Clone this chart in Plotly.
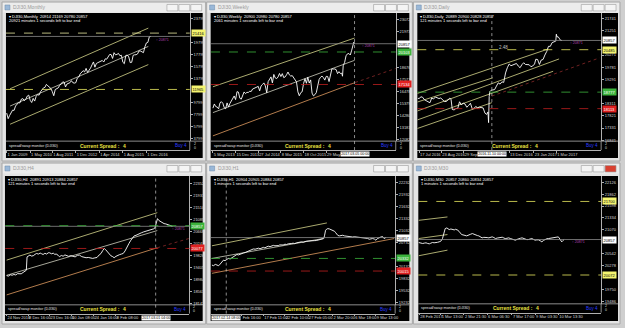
import plotly.graph_objects as go

W, H = 625, 328
def fx(x): return x / W
def fy(y): return 1 - y / H

# ================= DATA =================
# Panel 1 : DJI30 Monthly  (x = months since Jan 2009)
mo_close = [8001, 7063, 7609, 8168, 8500, 8447, 9172, 9496, 9712, 9713, 10345, 10428,
            10067, 10325, 10857, 11009, 10137, 9774, 10466, 10015, 10788, 11118, 11006, 11578,
            11892, 12226, 12320, 12811, 12570, 12414, 12143, 11614, 10913, 11955, 12046, 12218,
            12633, 12952, 13212, 13214, 12393, 12880, 13009, 13091, 13437, 13096, 13026, 13104,
            13861, 14054, 14579, 14840, 15116, 14910, 15500, 14810, 15130, 15546, 16086, 16577,
            15699, 16322, 16458, 16581, 16717, 16827, 16563, 17098, 17043, 17391, 17828, 17823,
            17165, 18133, 17776, 17841, 18011, 17620, 17690, 16528, 16285, 17664, 17720, 17425,
            16466, 16517, 17685, 17774, 17787, 17930, 18432, 18401, 18308, 18142, 19124, 19763,
            19864, 20812, 20857]
mo_x = list(range(len(mo_close)))
mo_tick_x = [0, 16, 31, 47, 63, 79, 95]
mo_tick_t = ["1 Jan 2009", "1 May 2010", "1 Aug 2011", "1 Dec 2012", "1 Apr 2014", "1 Aug 2015", "1 Dec 2016"]
mo_yticks = [3799, 5799, 7799, 9799, 13799, 15799, 17799, 19799, 23799]
mo_chan_x = [2.3, 96.3]
mo_chan_up = [12080, 22250]
mo_chan_mid = [9180, 19180]
mo_chan_lo = [6130, 16132]

# Panel 2 : DJI30 Weekly (x = weeks since 5 May 2013)
wk_x = [0, 2, 4, 6, 8, 10, 12, 14, 16, 18, 20, 22, 24, 26, 28, 30, 32, 34, 36, 38, 40, 42, 44, 46, 48,
        50, 52, 54, 56, 58, 60, 62, 64, 66, 68, 70, 72, 74, 76, 78, 80, 82, 84, 86, 88, 90, 92, 94, 96,
        98, 100, 102, 104, 106, 108, 110, 112, 114, 116, 118, 120, 122, 124, 126, 128, 130, 132, 134,
        136, 138, 140, 142, 144, 146, 148, 150, 152, 154, 156, 158, 160, 162, 164, 166, 168, 170, 172,
        174, 176, 178, 180, 182, 183, 184, 186, 188, 190, 192, 194, 196, 198, 199, 200]
wk_close = [14973, 15354, 15115, 15070, 14910, 15464, 15559, 15425, 15010, 14922, 15451, 15072, 15399,
            15615, 15961, 16086, 15755, 16479, 16437, 15879, 15794, 16103, 16453, 16303, 16413, 16409,
            16513, 16491, 16717, 16776, 16851, 16944, 16961, 16554, 17001, 17138, 17280, 17009, 16380,
            17391, 17635, 17828, 17281, 18053, 17737, 17672, 17824, 18140, 17857, 18128, 17763, 17826,
            18024, 18272, 18010, 17898, 17946, 17760, 17568, 17373, 16460, 16102, 16384, 16472, 17215,
            17663, 17245, 17798, 17265, 17552, 16346, 16093, 16204, 16392, 17006, 17602, 17792, 17897,
            17773, 17535, 17873, 17865, 17400, 18146, 18570, 18543, 18552, 18491, 18123, 18308, 18138,
            18161, 17888, 18847, 19152, 19757, 19933, 19964, 19827, 20269, 20822, 21005, 20857]
wk_tick_x = [0, 32, 64, 96, 128, 160]
wk_tick_t = ["5 May 2013", "15 Dec 2013", "27 Jul 2014", "8 Mar 2015", "18 Oct 2015", "29 May"]
wk_yticks = [23072, 21973, 18676, 17577, 16478, 15379, 14280, 13181, 12082]
wk_chan_x = [0, 200]
wk_chan_up = [16925, 21375]
wk_chan_mid = [14565, 19341]
wk_chan_lo = [12440, 17289]
wk_ext_x = [192.8, 258.2]
wk_ext_y = [17134, 18600]

# Panel 3 : DJI30 Daily (x = days since 17 Jul 2016)
dy_x = [-2, 1, 3, 6, 9, 12, 15, 18, 21, 24, 27, 30, 33, 36, 39, 42, 45, 48, 51, 53, 55, 58, 61, 64, 67,
        70, 73, 76, 79, 82, 85, 88, 91, 94, 97, 100, 103, 106, 109, 112, 114, 115, 116, 117, 119, 122,
        125, 128, 131, 134, 137, 140, 143, 146, 149, 152, 155, 158, 161, 164, 167, 170, 173, 176, 179,
        182, 185, 188, 191, 193, 196, 199, 202, 205, 208, 211, 214, 217, 220, 223, 226, 227, 228, 230,
        232, 234, 236]
dy_close = [18520, 18530, 18590, 18570, 18470, 18430, 18400, 18350, 18540, 18500, 18580, 18550, 18520,
            18540, 18450, 18400, 18400, 18490, 18540, 18480, 18080, 18060, 18120, 18120, 18390, 18260,
            18340, 18300, 18170, 18240, 18330, 18100, 18130, 18200, 18140, 18170, 18160, 18140, 17930,
            17880, 17980, 17550, 18600, 18800, 18850, 18870, 18880, 19020, 19150, 19100, 19190, 19170,
            19550, 19760, 19910, 19840, 19880, 19920, 19930, 19830, 19760, 19880, 19960, 19890, 19890,
            19880, 19800, 19830, 19910, 20100, 20090, 19890, 20070, 20090, 20270, 20410, 20620, 20620,
            20770, 20810, 20830, 21110, 21000, 21005, 20950, 20860, 20857]
dy_tick_x = [0, 37, 74, 149, 190, 227]
dy_tick_t = ["17 Jul 2016", "23 Aug 2016", "29 Sep", "13 Dec 2016", "23 Jan 2017", "1 Mar 2017"]
dy_yticks = [21741, 21251, 20271, 19781, 19291, 18311, 17821, 17331, 16841]
dy_l1_x, dy_l1_y = [-2.8, 213.5], [18725, 20513]
dy_l2_x, dy_l2_y = [-2.8, 122.0], [18377, 19353]
dy_l3_x, dy_l3_y = [-2.8, 231.5], [18017, 20113]
dy_l4_x, dy_l4_y = [-2.8, 221.7], [17657, 19617]
dy_l5_x, dy_l5_y = [-2.8, 120.4], [17313, 18353]
dy_ext_x, dy_ext_y = [120.4, 298.2], [18617, 20153]

# Panel 4 : DJI30 H4 (x = H4 bar index)
h4_x = [0, 5, 10, 15, 20, 25, 30, 35, 40, 45, 50, 54, 56, 60, 64, 68, 73, 78, 82, 87, 92, 96, 100, 105,
        110, 114, 118, 123, 128, 132, 136, 141, 145, 150, 155, 160, 164, 170, 176, 182, 188, 194, 200,
        206, 212, 218, 224, 230, 236, 242, 248, 254, 259, 264, 268, 272, 277, 282, 286, 291, 295, 300,
        305, 310, 315, 320, 325, 330, 336, 341, 346, 350, 355, 360, 364, 370, 376, 382, 388, 394, 400,
        404, 407, 410, 414, 418, 423, 428, 432, 437, 441, 446, 450, 455]
h4_close = [19120, 19105, 19150, 19135, 19160, 19145, 19190, 19200, 19185, 19230, 19260, 19310, 19780,
            19830, 19845, 19810, 19820, 19870, 19900, 19880, 19915, 19890, 19865, 19905, 19880, 19925,
            19925, 19890, 19910, 19870, 19880, 19840, 19785, 19830, 19805, 19850, 19840, 19800, 19825,
            19808, 19780, 19835, 19843, 19790, 19770, 19750, 19760, 19735, 19727, 19745, 19760, 19850,
            19900, 20010, 20077, 20030, 19960, 19900, 19820, 19790, 19750, 19800, 19843, 19860, 19880,
            19902, 19990, 20135, 20260, 20368, 20450, 20520, 20540, 20580, 20602, 20630, 20660, 20683,
            20700, 20720, 20753, 20770, 20800, 20990, 21127, 21060, 21010, 20970, 20952, 20940, 20917,
            20900, 20893, 20857]
h4_tick_x = [0, 59, 118, 177, 239, 300]
h4_tick_t = ["24 Nov 2016", "8 Dec 16:00", "23 Dec 16:00", "10 Jan 08:00", "24 Jan 16:00", "8 Feb 08:00"]
h4_yticks = [22352, 21931, 21510, 21089, 20668, 20247, 19826, 19405, 18984, 18563, 18142]
h4_chan_x = [0, 413.4]
h4_chan_up = [19667, 21337]
h4_chan_mid = [19132, 20707]
h4_chan_lo = [18442, 20101]
h4_ext_x, h4_ext_y = [413.4, 499.9], [20101, 20426]

# Panel 5 : DJI30 H1 (x = H1 bar index)
h1_x = [0, 4, 9, 13, 18, 22, 27, 31, 35, 40, 44, 49, 53, 58, 62, 67, 71, 76, 80, 85, 89, 93, 98, 102,
        107, 111, 116, 120, 125, 129, 133, 138, 142, 147, 151, 156, 160, 165, 169, 173, 178, 182, 187,
        191, 196, 200, 205, 209, 213, 218, 222, 227, 231, 236, 240, 245, 249, 253, 258, 262, 267, 271,
        276, 280, 285, 289, 293, 297, 300, 302, 305, 308, 311, 315, 320, 324, 329, 332, 335, 338, 342,
        346, 351, 355, 360, 364, 369, 373, 378, 382, 387, 391, 396, 400, 404, 409, 413, 418, 422, 427,
        431, 436, 440, 444, 449, 453, 458, 462, 465, 467]
h1_close = [20165, 20150, 20182, 20160, 20149, 20190, 20240, 20290, 20275, 20310, 20332, 20320, 20350,
            20374, 20400, 20432, 20420, 20445, 20457, 20470, 20480, 20499, 20520, 20540, 20557, 20570,
            20565, 20582, 20590, 20575, 20599, 20610, 20600, 20624, 20640, 20630, 20649, 20660, 20650,
            20649, 20655, 20672, 20665, 20670, 20690, 20682, 20700, 20695, 20707, 20715, 20705, 20724,
            20735, 20745, 20749, 20740, 20760, 20765, 20770, 20775, 20782, 20790, 20780, 20782, 20795,
            20800, 20807, 20820, 20832, 20900, 21040, 21070, 21082, 21075, 21057, 21040, 21015, 20980,
            20932, 20910, 20899, 20905, 20915, 20900, 20890, 20895, 20880, 20882, 20870, 20878, 20874,
            20865, 20870, 20857, 20850, 20860, 20849, 20835, 20815, 20830, 20832, 20820, 20790, 20830,
            20857, 20870, 20882, 20832, 20850, 20857]
h1_tick_x = [80, 138, 196, 258, 324, 382, 440]
h1_tick_t = ["Feb 16:00", "17 Feb 11:00", "22 Feb 10:00", "27 Feb 05:00", "2 Mar 20:00", "6 Mar 18:00", "9 Mar 13:00"]
h1_yticks = [22232, 21932, 21632, 21332, 21032, 20732, 20132, 19832, 19532, 19232]
h1_chan_up_x, h1_chan_up_y = [0, 308.5], [20650, 21225]
h1_chan_mid_x, h1_chan_mid_y = [0, 297.9], [20332, 20832]
h1_chan_lo_x, h1_chan_lo_y = [0, 489.0], [19957, 20832]

# Panel 6 : DJI30 M30 (x = M30 bar index)
m30_x = [0, 6, 12, 17, 22, 27, 32, 36, 41, 46, 51, 56, 61, 66, 71, 76, 79, 84, 88, 91, 96, 101, 106, 110,
         114, 117, 120, 123, 126, 128, 132, 135, 139, 143, 147, 150, 155, 160, 165, 170, 175, 179, 184,
         189, 194, 199, 204, 209, 214, 219, 224, 229, 234, 239, 244, 249, 254, 258, 263, 268, 273, 278,
         283, 288, 293, 298, 303, 308, 313, 318, 322, 327, 332, 337, 342, 347, 352, 357, 362, 367, 372,
         377, 382, 387, 391, 396, 401, 406, 411, 416, 421, 426, 429, 431, 433]
m30_close = [20791, 20780, 20769, 20778, 20784, 20770, 20762, 20775, 20791, 20785, 20784, 20795, 20806,
             20820, 20879, 20989, 21099, 21114, 21100, 21077, 21090, 21084, 21070, 21084, 21075, 21062,
             21040, 21011, 20985, 20967, 20960, 20952, 20945, 20938, 20950, 20967, 20975, 20989, 20970,
             20952, 20945, 20938, 20920, 20894, 20905, 20908, 20900, 20894, 20905, 20916, 20900, 20879,
             20890, 20894, 20905, 20908, 20890, 20879, 20885, 20894, 20880, 20864, 20850, 20842, 20860,
             20879, 20885, 20894, 20875, 20864, 20855, 20857, 20870, 20879, 20860, 20842, 20850, 20850,
             20830, 20806, 20840, 20864, 20875, 20879, 20885, 20894, 20890, 20894, 20900, 20916, 20864,
             20806, 20830, 20842, 20857]
m30_tick_x = [2, 66, 135, 204, 278, 347, 416]
m30_tick_t = ["28 Feb 2017", "1 Mar 13:00", "2 Mar 21:30", "6 Mar 06:30", "7 Mar 17:00", "9 Mar 03:30", "10 Mar 13:30"]
m30_yticks = [22126, 21862, 21598, 21334, 21070, 20542, 20278, 19750, 19486]
m30_chan_x = [0, 85.8]
m30_chan_up = [21282, 21357]
m30_chan_mid = [20879, 20967]
m30_chan_lo = [20498, 20622]

CUR = 20857

# ================= STYLE =================
PALE = '#d6d68c'
MIDL = '#d0d0c0'
ORNG = '#e09a60'
REDD = '#8a2a2a'
YEL = '#e8e860'
GRN = '#3cb43c'
RED = '#c02020'
GRY = '#8a8a8a'
TXT = '#d8d8d8'
FONT = 'Liberation Sans, Arial, sans-serif'

panels = [
    dict(title="DJI30,Monthly", win=(2, 2, 207, 162), blk=(6, 13, 204, 159), plot=(6, 13, 191, 142), ind=(142, 151),
         xr=[-0.5, 124.5], yr=[3296, 24800], x=mo_x, y=mo_close, xt=mo_tick_x, xtt=mo_tick_t, yt=mo_yticks,
         hdr="\u25be DJI30,Monthly  20914 21169 20780 20857", hdr2="20921 minutes 1 seconds left to bar end",
         lines=[(mo_chan_x, mo_chan_up, PALE, 'solid'), (mo_chan_x, mo_chan_mid, MIDL, 'solid'),
                (mo_chan_x, mo_chan_lo, PALE, 'solid')],
         hl=[(21416, '#e8e8a0', 'dash'), (CUR, GRY, 'solid'), (11965, YEL, 'dash')],
         boxes=[(21416, "21416", '#f4f470', '#000000'), (11965, "11965", '#f4f470', '#000000')],
         vline=None, purple=(100, 20300)),
    dict(title="DJI30,Weekly", win=(208, 2, 415, 162), blk=(212, 13, 412, 159), plot=(212.3, 13, 398.3, 142), ind=(142, 151),
         xr=[-2.8, 258.2], yr=[11959, 23672], x=wk_x, y=wk_close, xt=wk_tick_x, xtt=wk_tick_t, yt=wk_yticks,
         hdr="\u25be DJI30,Weekly  20900 20980 20780 20857", hdr2="2061 minutes 1 seconds left to bar end",
         lines=[(wk_chan_x, wk_chan_up, PALE, 'solid'), (wk_chan_x, wk_chan_mid, MIDL, 'solid'),
                (wk_chan_x, wk_chan_lo, ORNG, 'solid'), (wk_ext_x, wk_ext_y, REDD, 'dot')],
         hl=[(CUR, GRY, 'solid'), (20103, GRN, 'dash'), (17134, RED, 'dash')],
         boxes=[(CUR, "20857", '#ffffff', '#000000'), (20103, "20103", GRN, '#ffffff'), (17134, "17134", '#e02020', '#ffffff')],
         vline=(200, "2017.03.05 00:00"), purple=(207, 20612)),
    dict(title="DJI30,Daily", win=(416, 2, 624, 162), blk=(420, 13, 622, 159), plot=(420, 13, 605, 142), ind=(142, 151),
         xr=[-2.8, 301.0], yr=[16805, 21965], x=dy_x, y=dy_close, xt=dy_tick_x, xtt=dy_tick_t, yt=dy_yticks,
         hdr="\u25be DJI30,Daily  20889 20900 20828 20857", hdr2="121 minutes 1 seconds left to bar end",
         lines=[(dy_l1_x, dy_l1_y, PALE, 'solid'), (dy_l2_x, dy_l2_y, PALE, 'solid'), (dy_l3_x, dy_l3_y, PALE, 'solid'),
                (dy_l4_x, dy_l4_y, PALE, 'solid'), (dy_l5_x, dy_l5_y, PALE, 'solid'), (dy_ext_x, dy_ext_y, REDD, 'dot')],
         hl=[(CUR, GRY, 'solid'), (20485, YEL, 'dash'), (18777, GRN, 'dash'), (18113, RED, 'dash')],
         boxes=[(CUR, "20857", '#ffffff', '#000000'), (20485, "20485", '#f4f470', '#000000'),
                (18777, "18777", GRN, '#ffffff'), (18113, "18113", '#e02020', '#ffffff')],
         vline=(120.4, "2016.11.10 00:00"), purple=(246, 20753), extra=(139.6, 20577, "2.48")),
    dict(title="DJI30,H4", win=(2, 164, 207, 326), blk=(5, 177, 204, 323), plot=(5.3, 176.7, 190.7, 306.7), ind=(306.7, 315.5),
         xr=[-3.8, 501.8], yr=[18092, 22642], x=h4_x, y=h4_close, xt=h4_tick_x, xtt=h4_tick_t, yt=h4_yticks,
         hdr="\u25be DJI30,H4  20891 20913 20884 20857", hdr2="121 minutes 1 seconds left to bar end",
         lines=[(h4_chan_x, h4_chan_up, PALE, 'solid'), (h4_chan_x, h4_chan_mid, MIDL, 'solid'),
                (h4_chan_x, h4_chan_lo, ORNG, 'solid'), (h4_ext_x, h4_ext_y, REDD, 'dot')],
         hl=[(CUR, GRY, 'solid'), (20880, GRN, 'dash'), (20077, RED, 'dash')],
         boxes=[(CUR, "20857", GRN, '#ffffff'), (20077, "20077", '#e02020', '#ffffff')],
         vline=(409, "2017.03.01 04:00"), purple=(449, 20760)),
    dict(title="DJI30,H1", win=(208, 164, 415, 326), blk=(212, 177, 412, 323), plot=(212.3, 176.7, 397.7, 306.7), ind=(306.7, 315.5),
         xr=[-2.7, 491.7], yr=[19165, 22415], x=h1_x, y=h1_close, xt=h1_tick_x, xtt=h1_tick_t, yt=h1_yticks,
         hdr="\u25be DJI30,H1  20904 20905 20884 20857", hdr2="1 minutes 1 seconds left to bar end",
         lines=[(h1_chan_up_x, h1_chan_up_y, PALE, 'solid'), (h1_chan_mid_x, h1_chan_mid_y, MIDL, 'solid'),
                (h1_chan_lo_x, h1_chan_lo_y, ORNG, 'solid')],
         hl=[(CUR, GRY, 'solid'), (20332, GRN, 'dash'), (20015, RED, 'dash')],
         boxes=[(CUR, "20857", '#ffffff', '#000000'), (20332, "20332", GRN, '#ffffff'), (20015, "20015", '#e02020', '#ffffff')],
         vline=(38.4, "2017.02.14 08:00"), purple=None),
    dict(title="DJI30,M30", win=(416, 164, 624, 326), blk=(421, 177, 622, 323), plot=(421, 177.3, 605, 305.7), ind=(305.7, 314.5),
         xr=[-1, 543.4], yr=[19434, 22258], x=m30_x, y=m30_close, xt=m30_tick_x, xtt=m30_tick_t, yt=m30_yticks,
         hdr="\u25be DJI30,M30  20857 20860 20834 20857", hdr2="1 minutes 1 seconds left to bar end",
         lines=[(m30_chan_x, m30_chan_up, PALE, 'solid'), (m30_chan_x, m30_chan_mid, PALE, 'solid'),
                (m30_chan_x, m30_chan_lo, PALE, 'solid')],
         hl=[(21700, YEL, 'dash'), (CUR, GRY, 'solid'), (20072, YEL, 'dash')],
         boxes=[(21700, "21700", '#f4f470', '#000000'), (CUR, "20857", '#ffffff', '#000000'), (20072, "20072", '#f4f470', '#000000')],
         vline=None, purple=(450, 20806), active=True),
]

fig = go.Figure()
shapes, annotations, lay = [], [], {}

def rect(x0, y0, x1, y1, fill, line=None, lw=0, layer='below'):
    shapes.append(dict(type='rect', xref='paper', yref='paper', x0=fx(x0), x1=fx(x1), y0=fy(y1), y1=fy(y0),
                       fillcolor=fill, line=dict(color=line or fill, width=lw), layer=layer))

def seg(x0, y0, x1, y1, color, w=1, dash='solid', layer='above'):
    shapes.append(dict(type='line', xref='paper', yref='paper', x0=fx(x0), x1=fx(x1), y0=fy(y0), y1=fy(y1),
                       line=dict(color=color, width=w, dash=dash), layer=layer))

def text(x, y, s, color=TXT, size=4, anchor='left', bold=False, bg=None):
    annotations.append(dict(xref='paper', yref='paper', x=fx(x), y=fy(y), text=("<b>%s</b>" % s) if bold else s,
                            showarrow=False, xanchor=anchor, yanchor='middle',
                            font=dict(size=size, color=color, family=FONT), bgcolor=bg, borderpad=0))

for i, p in enumerate(panels, start=1):
    xa = 'x' if i == 1 else 'x%d' % i
    ya = 'y' if i == 1 else 'y%d' % i
    X0, Y0, X1, Y1 = p['plot']
    it, ib = p['ind']
    wx0, wy0, wx1, wy1 = p['win']
    bx0, by0, bx1, by1 = p['blk']

    # window chrome
    rect(wx0, wy0, wx1, wy1, '#e4e4e4', '#a8a8a8', 1)
    rect(wx0 + 1, wy0 + 1, wx1 - 1, wy0 + 10.5, '#ececec')
    rect(bx0, by0, bx1, by1, '#000000')
    shapes.append(dict(type='rect', xref='paper', yref='paper', x0=fx(wx0 + 3), x1=fx(wx0 + 8),
                       y0=fy(wy0 + 8), y1=fy(wy0 + 3), fillcolor='#9ab8d8', line=dict(color='#6a88a8', width=0.5), layer='below'))
    text(wx0 + 10, wy0 + 5.5, p['title'], color='#9a9a9a', size=5)
    for k in range(3):
        bxr = wx1 - 4 - (2 - k) * 12
        fill = '#d84030' if (p.get('active') and k == 2) else '#f4f4f4'
        shapes.append(dict(type='rect', xref='paper', yref='paper', x0=fx(bxr - 11), x1=fx(bxr),
                           y0=fy(wy0 + 9), y1=fy(wy0 + 2.5), fillcolor=fill,
                           line=dict(color='#9a9a9a', width=0.6), layer='below'))

    # indicator strip + separators
    seg(bx0, Y1, bx1, Y1, '#b0b0b0', 0.8)
    seg(X1, it, X1, ib, '#b0b0b0', 0.8)
    text(X0 + 2, (it + ib) / 2, "spread/swap monitor (DJI30)", color='#e0e0e0', size=3.8)
    text(X0 + 74, (it + ib) / 2, "Current Spread :", color='#e8e040', size=5, bold=True)
    text(X0 + 117, (it + ib) / 2, "4", color='#e8e040', size=5, bold=True)
    text(X1 - 2, (it + ib) / 2, "Buy 4", color='#2a3cff', size=4.5, anchor='right')
    text(X1 + 3, it + 2.5, "2", color=TXT, size=3.5)
    text(X1 + 3, ib - 2.5, "0", color=TXT, size=3.5)

    # header texts
    text(X0 + 2, Y0 + 3.5, p['hdr'], color='#ffffff', size=4)
    text(X0 + 2, Y0 + 7.8, p['hdr2'], color='#ffffff', size=4)

    # axes
    lay['xaxis' if i == 1 else 'xaxis%d' % i] = dict(
        domain=[fx(X0), fx(X1)], range=p['xr'], anchor='free', position=fy(ib),
        tickvals=p['xt'], ticktext=p['xtt'], ticklabelposition='outside right', tickangle=0,
        ticks='outside', ticklen=2, tickcolor='#b0b0b0', tickfont=dict(size=4, color=TXT, family=FONT),
        showline=True, linecolor='#b0b0b0', linewidth=0.8, showgrid=False, zeroline=False, fixedrange=True)
    lay['yaxis' if i == 1 else 'yaxis%d' % i] = dict(
        domain=[fy(Y1), fy(Y0)], range=p['yr'], anchor=xa, side='right',
        tickvals=p['yt'], ticktext=[str(v) for v in p['yt']],
        ticks='outside', ticklen=2, tickcolor='#b0b0b0', tickfont=dict(size=4, color=TXT, family=FONT),
        showline=True, linecolor='#b0b0b0', linewidth=0.8, showgrid=False, zeroline=False, fixedrange=True)

    # horizontal levels
    for lvl, col, dsh in p['hl']:
        shapes.append(dict(type='line', xref='%s domain' % xa, yref=ya, x0=0, x1=1, y0=lvl, y1=lvl,
                           line=dict(color=col, width=0.8, dash=dsh), layer='above'))
    # channel lines
    for xs, ys, col, dsh in p['lines']:
        fig.add_trace(go.Scatter(x=xs, y=ys, mode='lines', xaxis=xa, yaxis=ya, hoverinfo='skip',
                                 line=dict(color=col, width=0.8, dash=dsh), showlegend=False))
    # price
    fig.add_trace(go.Scatter(x=p['x'], y=p['y'], mode='lines', xaxis=xa, yaxis=ya, showlegend=False,
                             line=dict(color='#ffffff', width=0.9)))
    # price boxes on the scale
    for lvl, s, bg, fg in p['boxes']:
        annotations.append(dict(xref='paper', yref=ya, x=fx(X1 + 1), y=lvl, text=s, showarrow=False,
                                xanchor='left', yanchor='middle', bgcolor=bg, borderpad=0.5,
                                font=dict(size=4, color=fg, family=FONT)))
    # crosshair / separator
    if p['vline']:
        vx, vs = p['vline']
        shapes.append(dict(type='line', xref=xa, yref='paper', x0=vx, x1=vx, y0=fy(ib), y1=fy(Y0),
                           line=dict(color='#c8c8c8', width=0.7, dash='dot'), layer='above'))
        annotations.append(dict(xref=xa, yref='paper', x=vx, y=fy(ib + 4), text=vs, showarrow=False,
                                xanchor='center', yanchor='middle', bgcolor='#ffffff', borderpad=0.2,
                                font=dict(size=3.6, color='#000000', family=FONT)))
    if p['purple']:
        px_, py_ = p['purple']
        annotations.append(dict(xref=xa, yref=ya, x=px_, y=py_, text="\u2191 20871", showarrow=False,
                                xanchor='left', yanchor='middle', font=dict(size=3.6, color='#b040b0', family=FONT)))
    if p.get('extra'):
        ex, ey, es = p['extra']
        annotations.append(dict(xref=xa, yref=ya, x=ex, y=ey, text=es, showarrow=False,
                                xanchor='center', yanchor='middle', font=dict(size=4.5, color='#c0c0c0', family=FONT)))

fig.update_layout(width=W, height=H, margin=dict(l=0, r=0, t=0, b=0), autosize=False,
                  paper_bgcolor='#cfcfcf', plot_bgcolor='#000000', showlegend=False,
                  shapes=shapes, annotations=annotations, font=dict(family=FONT), **lay)
fig.write_html("out.html")
